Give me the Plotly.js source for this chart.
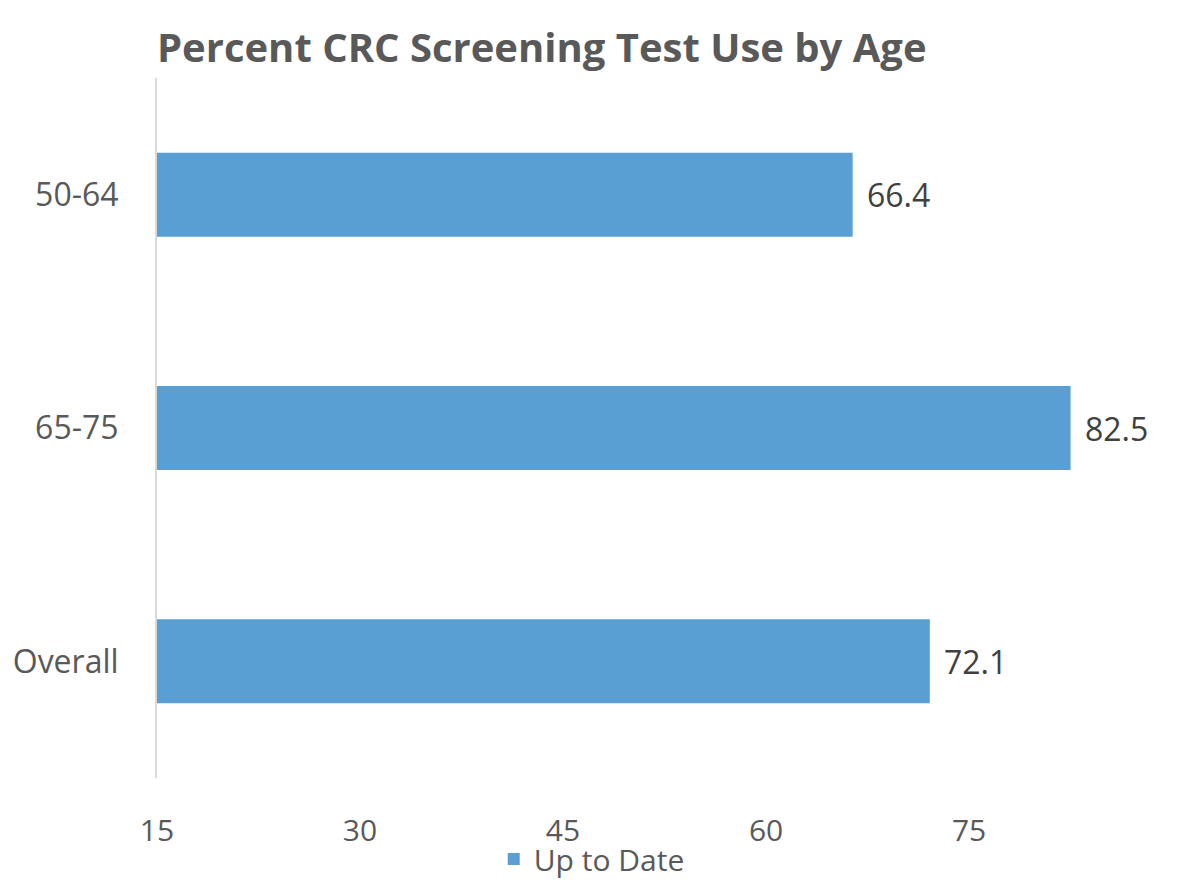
<!DOCTYPE html>
<html>
<head>
<meta charset="utf-8">
<script src="https://cdn.plot.ly/plotly-3.0.1.min.js"></script>
<style>
  html, body { margin: 0; padding: 0; background: #fff; }
  #chart { width: 1190px; height: 880px; }
</style>
</head>
<body>
<div id="chart"></div>
<script>
"use strict";

/******************************** Data *********************************/

var ageGroups = ['50-64', '65-75', 'Overall'];
var upToDate = [66.4, 82.5, 72.1];
var xTicks = [15, 30, 45, 60, 75];

/******************************** Graph *********************************/

var data = [
  {
    type: 'bar',
    orientation: 'h',
    name: 'Up to Date',
    y: ageGroups,
    x: upToDate,
    width: 0.36,
    marker: { color: '#5a9fd4' },
    hoverinfo: 'skip'
  }
];

// value labels next to the bar ends
var labels = upToDate.map(function (v, i) {
  return {
    x: v,
    y: ageGroups[i],
    xref: 'x',
    yref: 'y',
    text: v.toFixed(1),
    showarrow: false,
    xanchor: 'left',
    yanchor: 'middle',
    xshift: 12,
    font: { family: 'Open Sans', size: 32, color: '#404040' }
  };
});

var layout = {
  width: 1190,
  height: 880,
  margin: { l: 157, r: 45, t: 78, b: 102 },
  paper_bgcolor: '#ffffff',
  plot_bgcolor: '#ffffff',
  font: { family: 'Open Sans', size: 32, color: '#595959' },
  title: {
    text: '<b>Percent CRC Screening Test Use by Age</b>',
    font: { family: 'Open Sans', size: 40, color: '#595959' },
    x: 0,
    xref: 'paper',
    xanchor: 'left',
    y: 0.945,
    yref: 'container',
    yanchor: 'middle'
  },
  xaxis: {
    range: [15, 88],
    tickvals: xTicks,
    showgrid: false,
    zeroline: false,
    showline: false,
    ticks: '',
    ticklabelstandoff: 32,
    automargin: false,
    tickfont: { size: 30, color: '#595959' }
  },
  yaxis: {
    autorange: 'reversed',
    showgrid: false,
    zeroline: false,
    showline: true,
    linecolor: '#d9d9d9',
    linewidth: 2,
    ticks: '',
    ticklabelstandoff: 30,
    automargin: false,
    tickfont: { size: 32, color: '#595959' }
  },
  annotations: labels,
  showlegend: true,
  legend: {
    orientation: 'h',
    x: 0.44,
    xanchor: 'center',
    yref: 'container',
    y: 0.024,
    yanchor: 'middle',
    bgcolor: 'rgba(0,0,0,0)',
    font: { size: 30, color: '#595959' },
    itemwidth: 30
  }
};

Plotly.newPlot('chart', data, layout, { displayModeBar: false });
</script>
</body>
</html>
